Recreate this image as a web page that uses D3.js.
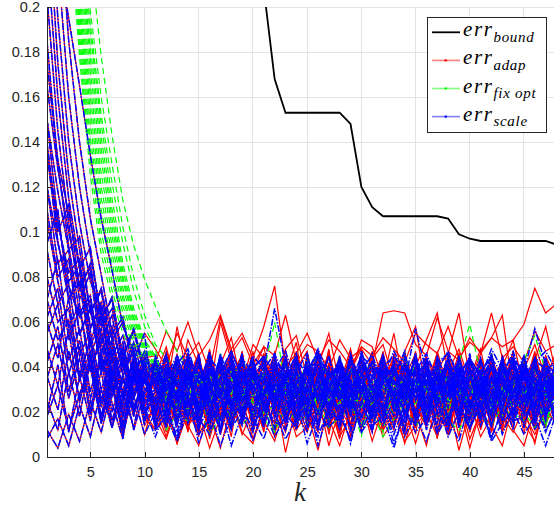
<!DOCTYPE html>
<html><head><meta charset="utf-8">
<script src="https://cdn.jsdelivr.net/npm/d3@7"></script>
<style>body{margin:0;background:#fff}svg{display:block}</style>
</head><body>
<svg id="c" width="554" height="508"></svg>
<script>
// All error values are in units of 1e-3 (milli)
const kValues = d3.range(1, 49);
const xTicks = [5, 10, 15, 20, 25, 30, 35, 40, 45];
const yTicks = [0, 20, 40, 60, 80, 100, 120, 140, 160, 180, 200];
const legendSubs = ["bound", "adap", "fix opt", "scale"];

// err_bound (k = 1..48, off-chart early values left null)
const boundErr = [null,null,null,null,null,null,null,null,null,null,null,null,null,null,null,null,null,null,
  290,250,208,168,153,153,153,153,153,153,148,120,111,107,107,107,107,107,107,106,99,97,96,96,96,96,96,96,96,94.4];

// first 10 steps (k=1..10), shared by err_adap and err_scale of the same run
const runStarts = [
[260,224,195,165,134,106,83,58,47,30],
[330,250,185,140,106,81,55,62,36,41],
[300,220,160,120,90,62,70,40,46,24],
[270,195,140,104,78,66,42,51,28,36],
[250,175,125,92,64,74,45,33,40,19],
[225,160,115,85,58,66,35,48,22,34],
[205,145,104,70,82,47,55,28,39,45],
[185,130,94,64,72,40,51,26,44,21],
[25,12,38,18,44,15,33,9,41,27],
[20,41,11,36,16,47,24,8,38,16],
[165,128,100,76,84,58,66,45,57,39],
[150,118,92,98,64,75,52,60,43,55],
[135,104,82,88,57,69,45,54,36,47],
[120,95,76,62,70,46,58,38,51,33],
[150,105,78,85,52,63,38,49,27,41],
[135,96,70,78,46,57,33,44,22,35],
[120,86,92,55,66,38,49,25,40,17],
[105,78,58,68,40,51,27,42,19,36],
[92,68,77,45,56,30,43,21,37,14],
[80,60,66,37,51,24,40,18,33,44],
[70,52,61,34,47,22,38,15,31,42],
[62,75,43,57,29,46,20,36,12,29],
[55,68,37,52,26,43,16,34,27,10],
[48,32,57,24,46,18,39,29,13,37],
[12,4,19,7,25,11,31,14,36,20],
[8,17,5,23,9,30,13,37,18,42],
[42,58,29,49,21,44,31,12,35,24],
[36,21,47,26,40,15,37,23,45,30],
[60,44,71,35,53,25,46,18,39,28],
[110,80,88,54,67,39,52,28,44,33],
[175,132,108,84,93,61,71,44,56,36],
[95,110,70,82,49,62,35,47,26,39],
[35,50,26,44,19,38,13,30,42,22],
[18,32,12,28,41,17,35,10,29,40],
[140,100,112,74,86,52,63,36,48,25],
[70,88,52,66,38,55,29,45,20,34]
];

// err_adap, k = 11..48
const adapTails = [
[34,18,42,25,11,37,29,46,15,31,22,40,13,35,27,44,19,33,9,38,26,14,41,30,21,45,17,36,24,12,39,28,16,43,23,34,20,37],
[21,39,27,45,16,30,12,41,33,19,37,24,48,14,29,36,10,32,25,43,18,34,27,11,40,22,35,15,46,28,20,38,13,31,42,17,29,35],
[44,26,14,35,40,19,31,23,47,12,28,38,21,33,16,42,25,8,36,30,45,17,29,39,13,34,24,41,19,27,37,11,32,44,22,15,38,26],
[13,31,37,22,9,44,28,17,39,25,46,20,33,12,38,27,41,15,30,22,11,36,43,24,18,33,8,40,27,35,16,45,21,29,37,12,34,23],
[29,45,20,36,27,13,40,33,18,44,24,31,15,39,47,21,12,35,28,42,30,19,37,9,26,44,33,16,39,23,41,27,14,35,20,46,25,31],
[38,15,30,46,22,35,10,27,41,19,33,9,44,26,18,37,30,45,14,28,40,23,12,36,29,17,43,25,34,11,28,39,22,16,33,42,19,37],
[17,36,25,12,43,30,21,38,28,47,15,34,26,41,20,11,36,29,44,23,18,32,45,27,14,38,22,31,9,40,26,35,18,44,29,13,32,24],
[26,11,39,31,18,46,23,14,35,42,29,17,38,22,45,30,13,27,40,19,34,46,20,28,37,15,31,43,24,35,12,30,41,21,27,36,16,45],
[15,24,6,20,28,10,22,14,26,8,19,30,2,23,12,21,27,9,18,25,7,22,29,13,20,5,27,16,23,4,21,26,11,24,15,7,25,18],
[22,9,26,14,5,23,17,28,11,6,24,15,27,12,20,3,25,18,8,28,16,12,24,6,22,14,26,10,20,25,9,18,27,12,5,22,15,24],
[42,56,47,60,45,52,63,48,55,44,58,76,40,46,55,43,52,47,40,49,45,53,48,42,55,50,46,58,44,51,47,53,49,52,59,75,64,68],
[48,40,55,44,51,38,62,46,53,41,49,45,63,42,50,47,39,52,44,48,41,64,65,64,50,45,62,47,43,53,46,64,44,49,42,56,47,50],
[36,49,30,52,41,27,60,43,33,50,44,31,48,54,35,46,25,41,37,52,49,34,55,29,40,52,64,38,48,33,46,53,63,29,39,50,35,47],
[44,29,58,35,46,22,41,53,31,38,49,27,37,51,20,40,55,32,48,26,44,50,33,47,58,28,39,46,64,35,48,24,40,52,30,43,58,36],
[31,44,20,38,14,35,27,46,18,33,40,23,11,37,29,45,16,32,25,43,19,36,28,12,41,24,47,30,15,38,26,42,21,34,10,39,28,19],
[40,25,16,33,45,22,36,12,29,41,18,35,27,46,14,31,38,20,43,26,33,11,37,24,44,19,30,40,16,35,23,46,28,13,38,31,17,42],
[12,30,38,21,33,8,27,42,19,36,25,47,15,28,39,22,34,11,40,29,17,43,26,35,13,31,45,20,38,24,30,14,41,27,36,18,44,22],
[37,20,45,28,13,40,24,33,46,17,31,9,38,26,42,19,35,28,14,44,23,36,30,47,18,27,39,12,33,41,21,34,25,45,15,32,38,27],
[23,41,17,34,28,46,11,30,37,20,44,26,15,39,32,18,42,24,35,13,29,45,21,33,10,40,27,36,19,31,43,16,37,25,30,47,22,34],
[45,28,34,16,40,23,31,48,14,37,22,43,29,17,36,41,25,11,33,27,39,20,46,31,24,15,35,42,18,30,37,25,44,19,33,28,13,40],
[19,35,42,24,30,15,44,27,38,21,33,46,18,29,40,12,36,23,47,31,16,38,25,43,20,34,29,11,41,26,35,18,45,30,22,39,14,33],
[33,14,27,39,22,46,31,18,41,25,12,36,44,20,31,27,48,16,38,23,42,29,15,35,46,22,30,40,13,37,25,43,31,17,36,28,45,21],
[27,43,33,11,37,25,19,44,30,16,39,22,34,45,13,31,26,41,18,36,28,47,20,32,38,14,43,25,35,19,40,30,12,38,24,46,29,35],
[41,22,29,46,17,38,34,13,27,43,20,35,31,24,42,15,37,30,46,21,33,26,40,18,29,45,11,34,22,39,31,17,36,42,25,12,39,28],
[12,21,6,25,10,19,4,23,18,8,22,15,26,9,13,24,17,5,21,16,27,12,19,7,14,20,9,25,3,21,13,26,18,11,22,6,28,14],
[17,8,23,14,20,4,18,25,10,21,16,7,24,19,11,27,5,22,13,19,24,9,17,21,6,23,18,12,26,8,20,14,5,24,19,10,21,15],
[29,47,33,20,40,26,12,37,45,24,34,19,41,30,15,36,44,22,33,28,47,18,31,39,25,13,35,42,20,30,38,23,45,32,16,41,27,38],
[36,18,43,28,33,11,39,24,47,21,30,42,16,35,27,45,20,37,13,31,26,44,23,38,17,32,46,21,34,29,14,40,27,36,22,43,30,19],
[24,39,28,44,15,33,41,20,36,30,46,23,17,40,32,27,45,14,35,38,21,43,30,25,47,19,34,41,16,32,39,28,44,20,37,31,24,46],
[30,16,35,41,23,45,28,9,38,32,19,43,25,36,14,30,47,27,21,40,33,12,39,28,44,22,36,18,41,26,15,35,42,24,31,45,19,29],
[43,31,21,37,26,48,18,34,29,14,38,27,45,22,33,41,16,36,25,44,12,29,37,46,20,31,27,43,33,17,39,22,30,47,13,34,41,26],
[15,34,26,42,31,19,37,45,23,28,11,40,33,18,46,25,30,39,14,35,27,44,16,32,40,23,38,10,29,45,21,33,39,18,44,27,35,23],
[35,25,46,13,29,40,32,20,43,27,37,18,31,47,24,38,12,33,41,26,45,20,35,29,13,42,25,37,30,16,44,32,20,38,27,14,41,30],
[22,40,31,27,44,16,35,23,39,11,29,45,20,34,26,43,31,17,38,48,24,32,19,41,36,27,14,46,31,22,37,11,34,29,42,24,37,16],
[38,27,14,45,33,22,41,30,17,36,42,24,31,13,39,28,46,21,35,29,18,40,33,26,45,15,30,38,23,43,28,36,17,41,32,26,45,34],
[26,44,36,19,31,47,24,13,40,33,21,37,28,44,17,32,25,41,30,12,36,27,43,21,34,40,18,31,46,25,33,19,38,26,44,16,31,39]
];

// err_scale, k = 11..48
const scaleTails = [
[28,41,17,35,24,45,13,31,38,20,33,26,44,15,30,39,22,36,11,29,42,19,34,27,46,16,32,24,40,21,37,14,30,43,25,35,18,33],
[19,33,27,44,12,38,25,30,46,16,35,22,41,29,14,37,31,20,45,26,11,34,28,42,18,39,23,33,15,44,27,36,21,40,13,31,38,24],
[37,22,45,30,18,40,27,14,34,43,21,31,16,38,46,25,33,19,29,41,36,24,13,30,44,20,38,27,35,12,32,45,19,28,40,23,34,17],
[14,30,36,21,42,27,10,33,24,39,45,18,30,26,40,13,35,28,21,47,31,16,39,25,33,43,20,12,37,29,22,41,15,34,27,45,19,30],
[42,26,33,17,38,12,29,44,21,35,27,40,15,32,24,46,18,37,30,13,28,41,22,34,16,39,31,45,25,19,36,13,40,26,32,21,43,28],
[25,37,11,29,45,20,34,40,16,31,23,43,34,19,28,12,39,25,44,33,20,36,29,11,42,24,35,17,30,38,14,27,44,22,37,30,16,41],
[32,17,40,24,30,47,26,19,38,28,13,35,42,21,37,29,16,45,23,32,40,27,14,36,25,43,19,33,28,46,22,31,38,15,41,26,35,20],
[9,22,15,28,6,19,25,12,30,17,8,24,19,13,27,5,21,16,29,11,23,14,26,9,20,31,13,18,7,25,17,28,10,22,15,26,12,20],
[30,44,22,38,15,33,27,41,18,36,29,12,35,46,24,31,20,40,34,16,37,25,43,19,30,14,39,28,45,22,33,18,42,29,36,21,44,26],
[45,36,41,48,33,44,38,47,35,42,39,46,34,43,37,48,36,41,33,45,40,35,47,38,44,32,42,46,37,43,35,48,39,44,36,42,47,38],
[21,35,28,43,17,31,39,24,46,13,36,27,20,41,32,15,38,26,44,30,18,33,24,42,14,37,29,40,21,35,27,45,16,33,24,39,31,14],
[14,21,8,24,17,10,26,13,20,7,23,16,12,25,19,9,22,15,28,11,18,24,6,21,14,27,10,19,23,13,25,9,20,16,27,12,22,18],
[34,46,25,37,20,42,29,15,39,31,44,23,36,18,33,41,27,12,37,29,24,45,31,19,38,26,43,16,34,40,21,35,28,46,19,32,38,25],
[26,13,38,30,44,22,35,41,17,28,37,24,45,19,31,36,14,33,27,42,30,17,40,23,35,12,29,44,26,38,16,34,25,43,31,22,37,29],
[39,28,19,45,33,25,12,37,30,43,20,32,41,27,11,38,29,44,18,34,25,46,21,30,40,33,15,36,27,20,42,29,36,18,45,27,33,13],
[17,40,31,23,36,14,44,29,25,38,32,45,16,28,42,24,37,30,19,47,26,34,41,17,29,36,22,43,31,15,38,24,33,41,20,35,28,43],
[31,24,43,15,27,38,33,21,45,12,29,36,23,40,17,31,45,28,13,37,33,20,28,44,25,38,11,30,42,24,35,19,45,27,38,14,30,37],
[23,36,14,41,29,20,35,45,26,33,16,39,30,22,44,34,19,36,27,41,13,29,37,24,46,21,33,40,16,28,43,31,22,36,29,41,17,34],
[44,19,30,37,22,46,16,33,28,40,25,13,38,31,20,47,26,35,42,18,31,38,27,15,35,45,24,29,37,17,30,40,26,12,39,33,20,46],
[12,32,26,45,19,35,40,23,14,37,41,28,33,15,46,24,30,39,21,35,27,16,44,32,20,30,41,14,38,25,19,43,32,28,45,16,35,23],
[12,18,7,21,10,17,23,5,19,14,22,9,18,25,6,20,13,19,8,23,14,18,4,21,11,17,24,9,20,13,22,7,15,21,10,18,5,20],
[38,29,44,34,40,25,46,31,36,43,28,38,47,32,40,26,35,43,30,39,45,33,41,27,38,46,34,40,30,44,29,39,36,47,33,41,27,37],
[20,34,27,39,13,31,42,25,36,18,45,24,30,38,16,34,22,43,29,35,12,40,26,32,43,21,36,15,38,27,33,19,42,24,35,28,44,21],
[35,23,42,18,31,27,45,20,38,29,14,41,32,26,36,47,19,33,24,44,30,22,37,45,16,34,27,40,19,35,28,46,21,37,30,16,39,27],
[16,23,9,26,14,21,5,18,23,11,27,20,8,17,22,12,15,23,6,25,18,22,10,24,19,7,21,17,25,13,23,8,22,16,18,24,11,23],
[41,30,36,46,28,39,33,22,44,37,29,42,38,31,24,45,36,40,27,33,43,30,36,47,25,39,34,28,44,31,38,45,26,35,41,29,43,32],
[26,38,15,33,44,21,30,37,19,42,24,35,29,16,40,27,45,22,31,38,17,43,26,34,20,39,28,12,37,30,44,21,33,26,39,15,35,29],
[33,16,29,40,22,35,11,43,26,31,39,18,34,45,23,30,37,14,42,28,21,35,40,24,31,17,45,27,33,20,36,24,41,30,19,44,26,38],
[35,40,32,44,37,30,42,36,33,45,39,66,41,34,38,43,35,40,32,37,42,36,39,33,57,38,35,41,37,44,36,40,34,43,38,57,41,37],
[42,36,45,39,33,41,37,47,35,40,44,38,34,42,39,46,36,41,37,43,35,40,45,38,36,42,39,47,34,41,38,44,37,40,36,43,39,42],
[24,41,33,18,37,29,45,21,32,39,15,34,27,43,30,20,38,25,46,31,22,37,29,13,41,33,26,44,18,35,27,40,23,34,45,19,31,36],
[39,22,35,28,46,17,31,40,24,33,43,26,12,37,29,41,23,34,18,45,30,38,21,33,44,16,35,27,40,23,31,14,38,44,26,33,21,40],
[18,33,44,26,12,38,30,22,41,35,27,46,20,33,38,14,29,44,31,24,39,19,34,28,45,23,30,37,13,42,25,36,29,17,40,32,24,45],
[30,45,24,36,20,42,27,33,15,38,22,31,44,28,35,19,40,32,24,37,46,27,18,39,31,42,25,34,20,36,43,26,38,31,23,41,34,27],
[27,14,39,32,41,25,36,18,44,29,35,21,38,12,33,45,28,37,22,31,19,42,33,26,38,14,45,31,24,39,17,35,28,42,25,37,20,33],
[43,30,21,38,27,34,16,45,31,22,40,33,25,44,21,36,30,17,39,28,34,45,20,31,27,40,36,22,43,29,32,23,44,19,36,28,41,26]
];

// err_fix opt: decaying heads (from k=1) and noisy tails (continuing to k=48)
const fixOptHeads = [
[420,330,240,178,125,90,70,55,45,40,36],
[425,335,245,183,131,95,74,58,47,41,37],
[430,340,250,188,137,100,78,61,49,42,38],
[435,345,255,193,142,105,82,64,51,43,38],
[440,350,260,198,148,110,86,67,53,44,39],
[445,355,265,203,154,115,90,70,55,46,40],
[450,360,270,208,160,120,94,72,57,47,41],
[455,365,275,213,165,126,98,75,59,48,42],
[460,370,280,218,171,132,102,78,61,49,43],
[468,373,285,222,177,137,106,80,62,50,44],
[474,376,290,226,182,142,110,83,64,51,44],
[480,380,295,230,188,148,115,86,66,52,45],
[500,400,310,245,198,160,130,102,80,63,50,44],
[490,390,302,238,192,152,122,95,74,58,48],
[560,450,355,280,222,178,143,114,94,79,67,56,47,40]
];
const fixOptTails = [
[31,16,42,22,35,12,38,25,44,19,33,26,40,14,36,27,45,20,34,25,11,38,29,43,18,35,24,41,15,33,26,39,20,44,30,13,37],
[27,43,18,36,24,46,15,32,39,21,12,35,27,44,18,29,41,26,9,34,36,22,45,31,17,38,25,42,21,30,46,18,33,27,40,14,31],
[35,29,26,38,27,31,24,33,29,36,26,22,31,28,34,25,30,37,27,23,32,29,35,26,30,24,33,28,31,27,36,25,30,29,33,27,34],
[22,28,31,19,26,30,23,27,32,21,29,25,33,20,27,31,24,28,22,30,26,19,29,33,24,27,21,30,25,28,23,32,26,20,29,25,30],
[38,33,41,35,30,39,34,44,31,37,35,40,33,38,45,34,30,39,36,42,33,37,31,41,35,39,34,42,59,37,32,40,36,43,54,38,36],
[18,25,21,28,15,23,27,20,26,17,24,29,19,22,27,16,25,21,28,23,18,26,20,24,29,17,23,27,21,25,19,28,22,16,24,27,20],
[29,24,32,27,35,25,30,22,34,28,26,31,37,24,29,33,27,21,30,26,34,29,23,31,36,27,24,30,28,35,25,31,27,23,33,29,26],
[33,38,30,27,36,31,41,29,34,38,60,32,36,30,25,35,31,39,28,33,37,30,34,27,31,40,33,29,36,32,27,38,31,35,29,34,37],
[25,20,28,33,23,29,26,31,18,27,32,24,29,26,21,30,34,23,28,25,31,22,27,30,24,29,19,28,33,26,23,30,27,32,22,28,25],
[12,19,16,23,10,18,21,14,20,17,11,22,16,19,24,13,18,21,15,20,9,17,22,14,19,25,16,12,21,18,14,23,17,20,13,19,16],
[31,36,28,33,26,30,35,28,24,32,29,37,27,31,26,34,29,24,32,28,35,30,26,33,29,31,27,36,30,25,32,28,34,27,31,35,29],
[27,23,30,35,25,29,22,31,27,33,24,29,26,32,35,25,30,28,23,31,27,34,25,29,32,26,30,22,28,33,27,31,24,29,26,32,28],
[39,33,37,30,35,28,34,31,38,29,33,27,36,30,32,26,35,31,29,37,32,28,34,30,26,33,31,36,29,32,27,34,30,35,28,33],
[24,30,26,21,29,33,25,28,22,30,26,32,24,29,20,27,31,25,28,23,30,26,21,29,34,25,27,31,24,28,22,30,26,29,24,31,27],
[34,29,37,31,27,35,30,33,28,38,31,26,34,29,32,36,28,31,35,27,30,33,29,36,31,27,34,30,28,33,37,29,32,30]
];

const adap = runStarts.map((s, i) => s.concat(adapTails[i]));
const scale = runStarts.map((s, i) => s.concat(scaleTails[i]));
const fixOpt = fixOptHeads.map((h, i) => h.concat(fixOptTails[i]));

const AX = "#262626";
const x = d3.scaleLinear().domain([1, 48]).range([47, 556.5]);
const y = d3.scaleLinear().domain([0, 200]).range([457, 7]);
const svg = d3.select("#c");

// grid
const grid = svg.append("g").attr("stroke", "#e3e3e3").attr("stroke-width", 1).attr("shape-rendering", "crispEdges");
grid.selectAll(".gx").data(xTicks).join("line").attr("class", "gx")
  .attr("x1", d => x(d)).attr("x2", d => x(d)).attr("y1", y(0)).attr("y2", y(200));
grid.selectAll(".gy").data(yTicks.filter(d => d > 0)).join("line").attr("class", "gy")
  .attr("x1", x(1)).attr("x2", x(48)).attr("y1", d => y(d)).attr("y2", d => y(d));

svg.append("defs").append("clipPath").attr("id", "clip")
  .append("rect").attr("x", x(1)).attr("y", y(200)).attr("width", x(48) - x(1)).attr("height", y(0) - y(200));
const plot = svg.append("g").attr("clip-path", "url(#clip)");

const line = d3.line().defined(d => d[1] != null).x(d => x(d[0])).y(d => y(d[1]));
const pts = arr => arr.map((v, i) => [kValues[i], v]);

plot.append("g").selectAll("path").data(adap).join("path")
  .attr("d", d => line(pts(d))).attr("fill", "none").attr("stroke", "#ff0000").attr("stroke-width", 1.2);

plot.append("g").selectAll("path").data(fixOpt).join("path")
  .attr("d", d => line(pts(d))).attr("fill", "none").attr("stroke", "#00ff00").attr("stroke-width", 1.2)
  .attr("stroke-dasharray", "6,4").attr("stroke-dashoffset", d => y(d[0]));

plot.append("g").selectAll("path").data(scale).join("path")
  .attr("d", d => line(pts(d))).attr("fill", "none").attr("stroke", "#0000ff").attr("stroke-width", 1.5)
  .attr("stroke-dasharray", "7,1.5,1.5,1.5");

plot.append("path").attr("d", line(pts(boundErr))).attr("fill", "none")
  .attr("stroke", "#000").attr("stroke-width", 1.8);

// axes
const fmt = d => String(+(d / 1000).toFixed(3));
const xa = svg.append("g").attr("transform", `translate(0,${y(0)})`)
  .call(d3.axisBottom(x).tickValues(xTicks).tickSizeInner(-5).tickSizeOuter(0).tickPadding(10));
const ya = svg.append("g").attr("transform", `translate(${x(1)},0)`)
  .call(d3.axisLeft(y).tickValues(yTicks).tickFormat(fmt).tickSizeInner(-5).tickSizeOuter(0).tickPadding(7));
[xa, ya].forEach(g => {
  g.selectAll("path,line").attr("stroke", AX).attr("shape-rendering", "crispEdges");
  g.selectAll("text").attr("fill", AX).style("font-family", "'Liberation Sans', Arial, sans-serif").style("font-size", "14.5px");
});

svg.append("text").attr("x", 300).attr("y", 501).attr("text-anchor", "middle")
  .style("font-family", "'Liberation Serif', serif").style("font-style", "italic").style("font-size", "27px")
  .attr("fill", AX).text("k");

// legend
const legendColors = ["#000000", "#ff0000", "#00ff00", "#0000ff"];
const lg = svg.append("g");
lg.append("rect").attr("x", 427.5).attr("y", 17.5).attr("width", 119).attr("height", 115)
  .attr("fill", "#fff").attr("stroke", AX).attr("stroke-width", 1).attr("shape-rendering", "crispEdges");
const rows = lg.selectAll("g.row").data(legendSubs).join("g").attr("class", "row")
  .attr("transform", (d, i) => `translate(0,${32.3 + i * 28.1})`);
rows.append("line").attr("x1", 432).attr("x2", 460).attr("y1", 0).attr("y2", 0)
  .attr("stroke", (d, i) => legendColors[i]).attr("stroke-opacity", (d, i) => i === 0 ? 1 : 0.5)
  .attr("stroke-width", (d, i) => i === 0 ? 1.8 : 1.6);
rows.filter((d, i) => i > 0).append("rect").attr("x", 444.5).attr("y", -1).attr("width", 2.5).attr("height", 2)
  .attr("fill", d => legendColors[legendSubs.indexOf(d)]);
const t = rows.append("text").attr("x", 463).attr("y", 4)
  .style("font-family", "'Liberation Serif', serif").style("font-style", "italic").attr("fill", "#000");
t.append("tspan").style("font-size", "21px").style("letter-spacing", "1.6px").text("err");
t.append("tspan").attr("dy", 5.7).style("font-size", "15px").style("letter-spacing", "0.7px").text(d => d);
</script>
</body></html>
